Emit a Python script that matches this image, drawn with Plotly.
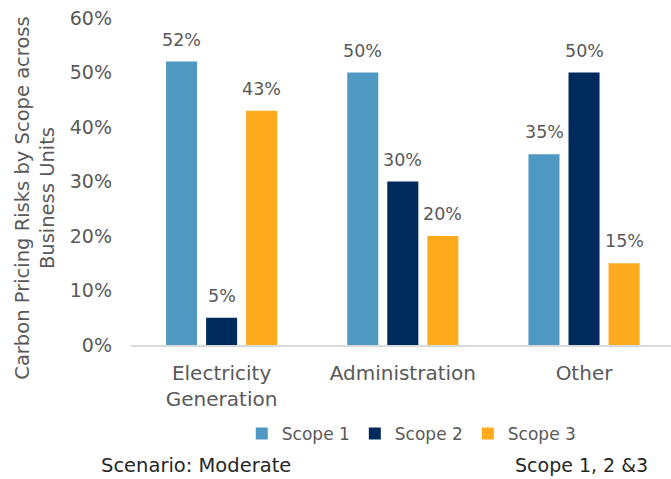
import plotly.graph_objects as go

categories = ["Electricity<br>Generation", "Administration", "Other"]
scope1 = [0.52, 0.50, 0.35]
scope2 = [0.05, 0.30, 0.50]
scope3 = [0.43, 0.20, 0.15]
series_names = ["Scope 1", "Scope 2", "Scope 3"]
colors = ["#4E98C2", "#002B5C", "#FDAA1C"]
y_ticks = [0, 0.1, 0.2, 0.3, 0.4, 0.5, 0.6]
y_title = "Carbon Pricing Risks by Scope across<br>Business Units"

FONT = "DejaVu Sans, Arial, sans-serif"
GRAY = "#595959"

series = [scope1, scope2, scope3]

fig = go.Figure()
for name, vals, c in zip(series_names, series, colors):
    fig.add_trace(go.Bar(
        x=categories, y=vals, name=name, marker=dict(color=c, line=dict(width=0)),
    ))

annotations = []
for i, vals in enumerate(series):
    for cat, v in zip(categories, vals):
        annotations.append(dict(
            x=cat, y=v, xref="x", yref="y", text=f"{v*100:.0f}%",
            showarrow=False, xanchor="center", yanchor="bottom",
            xshift=(i - 1) * 40, yshift=10,
            font=dict(family=FONT, size=17.5, color=GRAY)))

annotations += [
    dict(text=y_title, xref="paper", yref="paper", x=-0.178, y=0.45,
         xanchor="center", yanchor="middle", showarrow=False, textangle=-90,
         font=dict(family=FONT, size=19.5, color=GRAY)),
    dict(text="Scenario: Moderate", xref="paper", yref="paper", x=-0.059, y=-0.367,
         xanchor="left", yanchor="middle", showarrow=False,
         font=dict(family=FONT, size=19.5, color="#262626")),
    dict(text="Scope 1, 2 &3", xref="paper", yref="paper", x=0.962, y=-0.367,
         xanchor="right", yanchor="middle", showarrow=False,
         font=dict(family=FONT, size=19, color="#262626")),
]

fig.update_layout(
    width=671, height=479,
    margin=dict(l=131, r=0, t=18, b=134),
    paper_bgcolor="white", plot_bgcolor="white",
    barmode="group", bargap=0.337, bargroupgap=0.225,
    font=dict(family=FONT, color=GRAY),
    showlegend=True,
    legend=dict(orientation="h", x=0.52, xanchor="center", y=-0.272, yanchor="middle",
                font=dict(family=FONT, size=17, color=GRAY), itemwidth=30,
                traceorder="normal"),
    xaxis=dict(range=[-0.5, 2.48], showline=True, linecolor="#D9D9D9", linewidth=1.5,
               tickfont=dict(family=FONT, size=20, color=GRAY), ticks="", showgrid=False,
               ticklabelstandoff=9),
    yaxis=dict(range=[0, 0.6], tickvals=y_ticks, tickformat=".0%", showgrid=False,
               zeroline=False, tickfont=dict(family=FONT, size=19, color=GRAY),
               ticklen=0, ticks="", ticklabelstandoff=18),
    annotations=annotations,
)

fig.write_html("out.html")
